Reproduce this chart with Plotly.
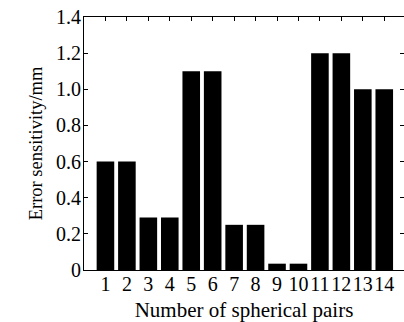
import plotly.graph_objects as go

pairs = list(range(1, 15))
sensitivity = [0.6, 0.6, 0.29, 0.29, 1.1, 1.1, 0.25, 0.25, 0.035, 0.035, 1.2, 1.2, 1.0, 1.0]
y_ticks = [0, 0.2, 0.4, 0.6, 0.8, 1.0, 1.2, 1.4]
y_ticktext = ["0", "0.2", "0.4", "0.6", "0.8", "1.0", "1.2", "1.4"]

font_family = "Liberation Serif, Times New Roman, serif"

fig = go.Figure(
    go.Bar(x=pairs, y=sensitivity, width=0.82, marker=dict(color="black", line=dict(width=0)))
)

fig.update_layout(
    width=404, height=322,
    margin=dict(l=84, r=0, t=17, b=52),
    paper_bgcolor="white", plot_bgcolor="white",
    font=dict(family=font_family, color="black", size=20),
    showlegend=False,
)
fig.update_xaxes(
    range=[0, 14.92], tickvals=pairs, ticktext=[str(p) for p in pairs],
    tickangle=0, automargin=False, ticklabelstandoff=-4,
    ticks="inside", ticklen=4, tickcolor="black", tickwidth=1,
    showline=True, linecolor="black", linewidth=1, mirror="ticks",
    showgrid=False, zeroline=False,
    tickfont=dict(size=20),
    title=dict(text="Number of spherical pairs", font=dict(size=21), standoff=10),
)
fig.update_yaxes(
    range=[0, 1.4], tickvals=y_ticks, ticktext=y_ticktext,
    automargin=False, ticklabelstandoff=-2,
    ticks="inside", ticklen=4, tickcolor="black", tickwidth=1,
    showline=True, linecolor="black", linewidth=1, mirror="ticks",
    showgrid=False, zeroline=False,
    tickfont=dict(size=20),
    title=dict(text="Error sensitivity/mm", font=dict(size=18.5), standoff=8),
)

fig.write_html("out.html")
